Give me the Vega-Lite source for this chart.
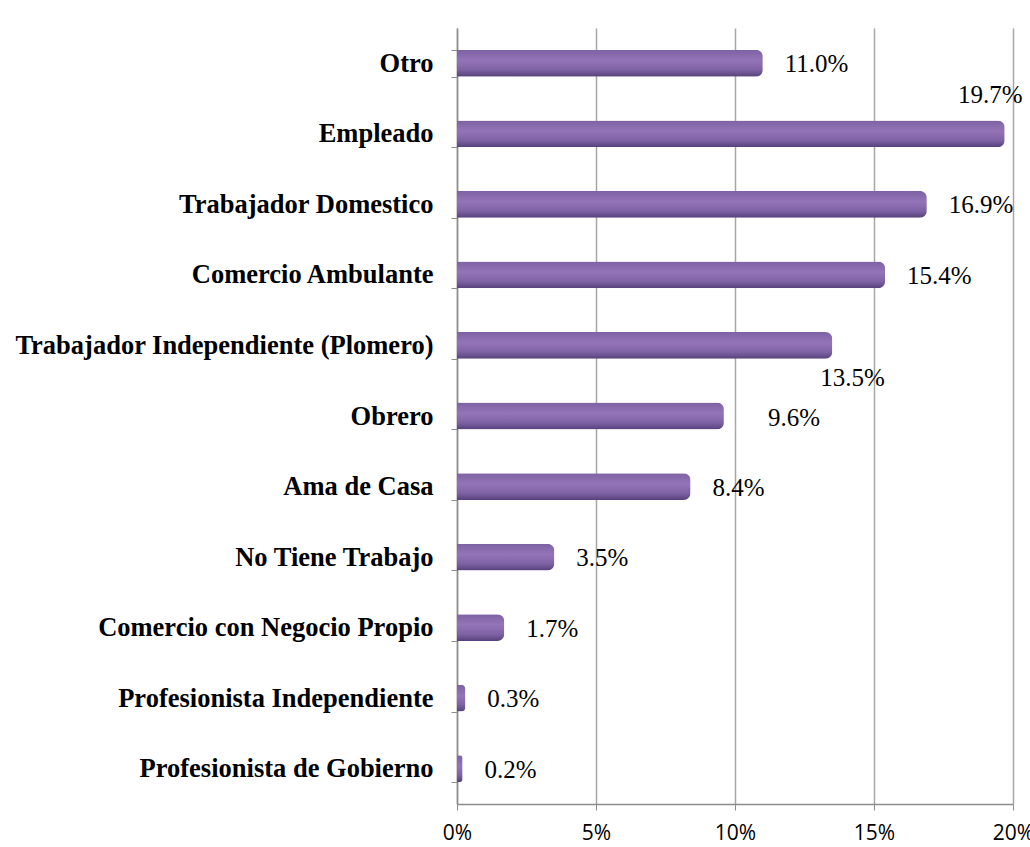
{
  "$schema": "https://vega.github.io/schema/vega-lite/v6.json",
  "autosize": {"type": "none"},
  "width": 556,
  "height": 776,
  "padding": {"left": 457, "top": 28, "right": 17, "bottom": 43},
  "background": "white",
  "config": {"view": {"stroke": null}},
  "data": {"values": [
    {"ocupacion": "Otro", "pct": 11.0, "label": "11.0%"},
    {"ocupacion": "Empleado", "pct": 19.7, "label": "19.7%"},
    {"ocupacion": "Trabajador Domestico", "pct": 16.9, "label": "16.9%"},
    {"ocupacion": "Comercio Ambulante", "pct": 15.4, "label": "15.4%"},
    {"ocupacion": "Trabajador Independiente (Plomero)", "pct": 13.5, "label": "13.5%"},
    {"ocupacion": "Obrero", "pct": 9.6, "label": "9.6%"},
    {"ocupacion": "Ama de Casa", "pct": 8.4, "label": "8.4%"},
    {"ocupacion": "No Tiene Trabajo", "pct": 3.5, "label": "3.5%"},
    {"ocupacion": "Comercio con Negocio Propio", "pct": 1.7, "label": "1.7%"},
    {"ocupacion": "Profesionista Independiente", "pct": 0.3, "label": "0.3%"},
    {"ocupacion": "Profesionista de Gobierno", "pct": 0.2, "label": "0.2%"}
  ]},
  "encoding": {
    "y": {
      "field": "ocupacion", "type": "nominal", "sort": null,
      "scale": {"paddingInner": 0.62, "paddingOuter": 0.31},
      "axis": {
        "title": null, "labelFont": "Liberation Serif", "labelFontWeight": "bold",
        "labelFontSize": 26.5, "labelColor": "black", "labelPadding": 18,
        "labelLimit": 600, "domainColor": "#8c8c8c", "domainWidth": 1.5,
        "tickColor": "#8c8c8c", "tickSize": 6, "tickBand": "extent", "grid": false
      }
    },
    "x": {
      "field": "pct", "type": "quantitative",
      "scale": {"domain": [0, 20], "nice": false},
      "axis": {
        "title": null, "values": [0, 5, 10, 15, 20],
        "labelExpr": "datum.value + '%'",
        "labelFont": "Open Sans", "labelFontSize": 21, "labelColor": "black",
        "labelPadding": 12, "labelFlush": false,
        "domainColor": "#8c8c8c", "domainWidth": 1.5,
        "tickColor": "#8c8c8c", "tickSize": 6,
        "grid": true, "gridColor": "#a6a6a6", "gridWidth": 1.5
      }
    }
  },
  "layer": [
    {
      "mark": {
        "type": "bar", "cornerRadiusEnd": 7,
        "color": {"gradient": "linear", "x1": 0, "y1": 0, "x2": 0, "y2": 1,
          "stops": [
            {"offset": 0, "color": "#7d62a3"},
            {"offset": 0.4, "color": "#9474b8"},
            {"offset": 0.75, "color": "#7e62a4"},
            {"offset": 1, "color": "#56407a"}
          ]}
      }
    },
    {
      "transform": [{"filter": "datum.ocupacion != 'Empleado' && datum.ocupacion != 'Trabajador Independiente (Plomero)' && datum.ocupacion != 'Obrero'"}],
      "mark": {"type": "text", "align": "left", "baseline": "middle", "dx": 22, "dy": 1,
        "font": "Liberation Serif", "fontSize": 25, "color": "black"},
      "encoding": {"text": {"field": "label"}}
    },
    {
      "transform": [{"filter": "datum.ocupacion == 'Empleado'"}],
      "mark": {"type": "text", "align": "right", "baseline": "middle", "dx": 18, "dy": -39,
        "font": "Liberation Serif", "fontSize": 25, "color": "black"},
      "encoding": {"text": {"field": "label"}}
    },
    {
      "transform": [{"filter": "datum.ocupacion == 'Trabajador Independiente (Plomero)'"}],
      "mark": {"type": "text", "align": "left", "baseline": "middle", "dx": -12, "dy": 33,
        "font": "Liberation Serif", "fontSize": 25, "color": "black"},
      "encoding": {"text": {"field": "label"}}
    },
    {
      "transform": [{"filter": "datum.ocupacion == 'Obrero'"}],
      "mark": {"type": "text", "align": "left", "baseline": "middle", "dx": 44, "dy": 2,
        "font": "Liberation Serif", "fontSize": 25, "color": "black"},
      "encoding": {"text": {"field": "label"}}
    }
  ]
}
